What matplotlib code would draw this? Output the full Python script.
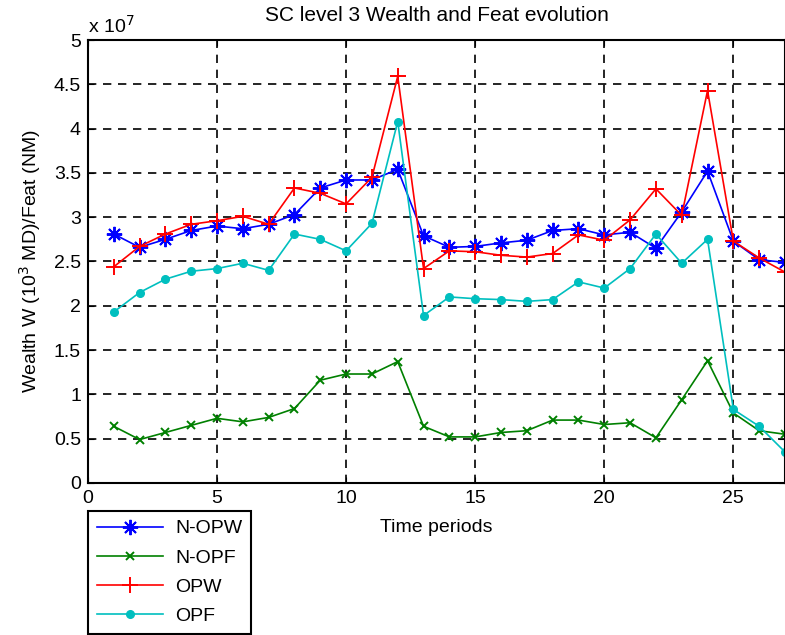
import matplotlib
matplotlib.use("Agg")
import matplotlib.pyplot as plt
from matplotlib.ticker import FormatStrFormatter

plt.rcParams['font.family'] = ['Liberation Sans', 'DejaVu Sans']

# time periods and series, values in units of 1e7
periods = list(range(1, 28))

n_opw = [2.81, 2.66, 2.75, 2.85, 2.90, 2.87, 2.92, 3.03, 3.33, 3.42, 3.42, 3.54,
         2.79, 2.66, 2.67, 2.71, 2.74, 2.85, 2.87, 2.80, 2.83, 2.65, 3.06, 3.52,
         2.73, 2.52, 2.49]
n_opf = [0.64, 0.49, 0.57, 0.65, 0.73, 0.69, 0.74, 0.84, 1.16, 1.23, 1.23, 1.37,
         0.64, 0.52, 0.52, 0.57, 0.59, 0.71, 0.71, 0.66, 0.68, 0.51, 0.94, 1.38,
         0.79, 0.59, 0.55]
opw = [2.44, 2.67, 2.81, 2.92, 2.96, 3.01, 2.92, 3.33, 3.27, 3.15, 3.45, 4.59,
       2.42, 2.62, 2.61, 2.57, 2.55, 2.59, 2.80, 2.74, 2.97, 3.32, 3.02, 4.43,
       2.73, 2.54, 2.38]
opf = [1.93, 2.15, 2.30, 2.39, 2.42, 2.48, 2.40, 2.81, 2.75, 2.62, 2.93, 4.08,
       1.89, 2.10, 2.08, 2.07, 2.05, 2.07, 2.27, 2.20, 2.42, 2.81, 2.48, 2.75,
       0.83, 0.64, 0.35]

fig = plt.figure(figsize=(7.85, 6.35), dpi=100)
ax = fig.add_axes([0.112, 0.2394, 0.888, 0.6976])

ax.plot(periods, n_opw, color='#0000ff', marker=(8, 2, 0), markersize=11,
        markeredgewidth=1.4, linewidth=1.2, label='N-OPW')
ax.plot(periods, n_opf, color='#008000', marker='x', markersize=6,
        markeredgewidth=1.4, linewidth=1.2, label='N-OPF')
ax.plot(periods, opw, color='#ff0000', marker='+', markersize=12,
        markeredgewidth=1.4, linewidth=1.2, label='OPW')
ax.plot(periods, opf, color='#00bfbf', marker='o', markersize=5.5,
        linewidth=1.2, label='OPF')

ax.set_xlim(0, 27)
ax.set_ylim(0, 5)
ax.set_xticks([0, 5, 10, 15, 20, 25])
ax.set_yticks([0, 0.5, 1, 1.5, 2, 2.5, 3, 3.5, 4, 4.5, 5])
ax.yaxis.set_major_formatter(FormatStrFormatter('%g'))
ax.tick_params(direction='in', top=True, right=True, labelsize=14, length=4, pad=5)
ax.grid(True, color='black', linestyle=(0, (5, 4)), linewidth=1.2)
for s in ax.spines.values():
    s.set_linewidth(1.5)

ax.set_title('SC level 3 Wealth and Feat evolution', fontsize=15, pad=14)
ax.set_xlabel('Time periods', fontsize=14, labelpad=9)
ax.set_ylabel('Wealth W (10$^3$ MD)/Feat (NM)', fontsize=14, labelpad=8)
ax.text(0.0, 1.008, 'x 10$^7$', transform=ax.transAxes, fontsize=14,
        ha='left', va='bottom')

leg = fig.legend(loc='upper left', bbox_to_anchor=(0.1121, 0.1953), fontsize=14,
                 handlelength=3.4, handletextpad=0.65, fancybox=False,
                 edgecolor='black', framealpha=1, borderpad=0.45,
                 labelspacing=0.6, borderaxespad=0)
leg.get_frame().set_linewidth(1.5)

fig.savefig('out.png', dpi=100)
